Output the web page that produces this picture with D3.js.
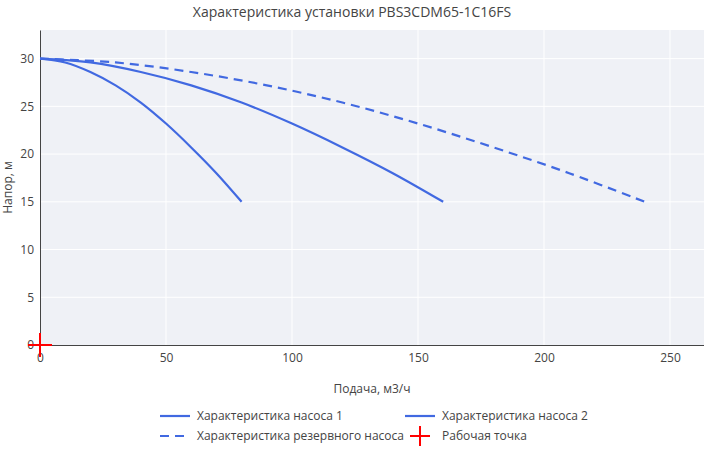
<!DOCTYPE html>
<html><head><meta charset="utf-8">
<script src="https://cdn.jsdelivr.net/npm/d3@7"></script>
<style>body{margin:0;background:#fff}text{font-family:"Open Sans",sans-serif;fill:#444}</style>
</head><body>
<script>
const flowPump1 = [0, 10, 20, 30, 40, 50, 60, 70, 80];
const headPump1 = [30, 29.6, 28.6, 27.2, 25.4, 23.2, 20.7, 18.0, 15.0];
const flowPump2 = [0, 20, 40, 60, 80, 100, 120, 140, 160];
const headPump2 = [30, 29.6, 28.6, 27.2, 25.4, 23.2, 20.7, 18.0, 15.0];
const flowReserve = [0, 30, 60, 90, 120, 150, 180, 210, 240];
const headReserve = [30, 29.6, 28.6, 27.2, 25.4, 23.2, 20.7, 18.0, 15.0];
const workPoint = [0, 0];
const xTicks = [0, 50, 100, 150, 200, 250];
const yTicks = [0, 5, 10, 15, 20, 25, 30];

const W = 704, H = 450;
const m = { left: 40, right: 0, top: 30, bottom: 105 };
const svg = d3.select("body").append("svg").attr("width", W).attr("height", H);

const x = d3.scaleLinear().domain([0, 263.5]).range([m.left, W - m.right]);
const y = d3.scaleLinear().domain([0, 33]).range([H - m.bottom, m.top]);

svg.append("rect").attr("x", m.left).attr("y", m.top)
  .attr("width", W - m.left - m.right).attr("height", H - m.top - m.bottom)
  .attr("fill", "#eff1f6");

const g = svg.append("g");
g.selectAll("line.gx").data(xTicks.slice(1)).join("line")
  .attr("x1", d => x(d)).attr("x2", d => x(d)).attr("y1", m.top).attr("y2", H - m.bottom)
  .attr("stroke", "#fff");
g.selectAll("line.gy").data(yTicks.slice(1)).join("line")
  .attr("y1", d => y(d)).attr("y2", d => y(d)).attr("x1", m.left).attr("x2", W - m.right)
  .attr("stroke", "#fff");

const xAxis = svg.append("g").attr("transform", `translate(0,${H - m.bottom})`)
  .call(d3.axisBottom(x).tickValues(xTicks).tickSize(0).tickPadding(8));
xAxis.select(".domain").attr("stroke", "#444");
const yAxis = svg.append("g").attr("transform", `translate(${m.left},0)`)
  .call(d3.axisLeft(y).tickValues(yTicks).tickSize(0).tickPadding(6));
yAxis.select(".domain").attr("stroke", "#444");
svg.selectAll(".tick text").style("font-size", "12px").style("fill", "#444").style("font-family", "Open Sans");

const line = d3.line().x(d => x(d[0])).y(d => y(d[1])).curve(d3.curveCatmullRom);
const series = [
  { xs: flowPump1, ys: headPump1, dash: null },
  { xs: flowPump2, ys: headPump2, dash: null },
  { xs: flowReserve, ys: headReserve, dash: "9,6" }
];
series.forEach(s => {
  svg.append("path").datum(s.xs.map((v, i) => [v, s.ys[i]]))
    .attr("d", line).attr("fill", "none").attr("stroke", "#4169e1")
    .attr("stroke-width", 2.2).attr("stroke-dasharray", s.dash);
});

function cross(gs, cx, cy, r) {
  gs.append("path").attr("d", `M${cx},${cy - r}V${cy + r}M${cx - r},${cy}H${cx + r}`)
    .attr("stroke", "red").attr("stroke-width", 2);
}
cross(svg, x(workPoint[0]), y(workPoint[1]), 12);

svg.append("text").attr("x", W / 2).attr("y", 17).attr("text-anchor", "middle")
  .style("font-size", "14px").text("Характеристика установки PBS3CDM65-1C16FS");
svg.append("text").attr("x", (m.left + W) / 2).attr("y", 393).attr("text-anchor", "middle")
  .style("font-size", "12px").text("Подача, м3/ч");
svg.append("text").attr("transform", `translate(12,${(m.top + H - m.bottom) / 2}) rotate(-90)`)
  .attr("text-anchor", "middle").style("font-size", "12px").text("Напор, м");

const legend = [
  { t: "Характеристика насоса 1", lx: 160, ly: 416, dash: null },
  { t: "Характеристика насоса 2", lx: 405, ly: 416, dash: null },
  { t: "Характеристика резервного насоса", lx: 160, ly: 436, dash: "9,6" },
  { t: "Рабочая точка", lx: 405, ly: 436, cross: true }
];
legend.forEach(l => {
  if (l.cross) cross(svg, l.lx + 15, l.ly, 10);
  else svg.append("line").attr("x1", l.lx).attr("x2", l.lx + 30).attr("y1", l.ly).attr("y2", l.ly)
    .attr("stroke", "#4169e1").attr("stroke-width", 2.2).attr("stroke-dasharray", l.dash);
  svg.append("text").attr("x", l.lx + 37).attr("y", l.ly + 4).style("font-size", "12px").text(l.t);
});
</script>
</body></html>
